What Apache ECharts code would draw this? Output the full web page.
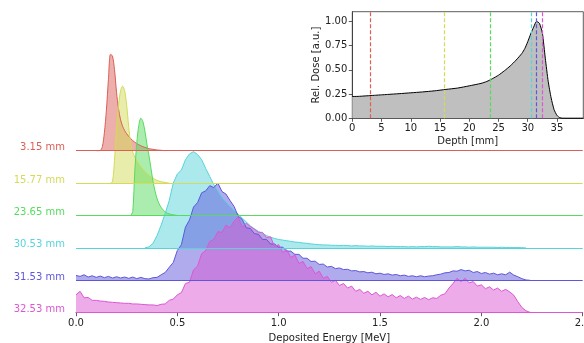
<!DOCTYPE html>
<html>
<head>
<meta charset="utf-8">
<script src="https://cdn.jsdelivr.net/npm/echarts@6/dist/echarts.min.js"></script>
<style>
  html, body { margin: 0; padding: 0; background: #fff; }
  #chart { width: 584px; height: 343px; }
</style>
</head>
<body>
<div id="chart"></div>
<script>
// spectra at six depths, top ridge first
const depthLabels = ['3.15 mm', '15.77 mm', '23.65 mm', '30.53 mm', '31.53 mm', '32.53 mm'];
const depthValues = [3.15, 15.77, 23.65, 30.53, 31.53, 32.53];
const ridgeColors = ['#db5f57', '#d4db57', '#57db5f', '#57d4db', '#5f57db', '#db57d4'];

// first energy bin [MeV] and bin width of each spectrum
const specStart = [0.10, 0.17, 0.27, 0.34, 0.00, 0.00];
const specStep = [0.01, 0.01, 0.01, 0.02, 0.02, 0.02];

const spec315 = [0, 0, 0.01, 0.12, 0.55, 1.25, 2.2, 2.97, 2.92, 2.5, 1.8, 1.28, 0.95, 0.75, 0.62, 0.52, 0.44,
  0.37, 0.31, 0.26, 0.22, 0.18, 0.15, 0.12, 0.1, 0.08, 0.06, 0.05, 0.04, 0.03, 0.02, 0.015, 0.01, 0.005, 0];
const spec1577 = [0, 0.04, 0.7, 1.7, 2.4, 2.85, 2.99, 2.85, 2.4, 1.75, 1.2, 0.95, 0.8, 0.7, 0.6, 0.51, 0.43,
  0.36, 0.3, 0.24, 0.19, 0.15, 0.11, 0.08, 0.06, 0.04, 0.03, 0.02, 0.01, 0];
const spec2365 = [0, 0.12, 1.35, 2.25, 2.78, 3.0, 2.9, 2.6, 2.2, 1.85, 1.45, 1.05, 0.75, 0.52, 0.36, 0.25,
  0.17, 0.11, 0.07, 0.05, 0.03, 0.02, 0.01, 0];
const spec3053 = [0, 0.03, 0.14, 0.38, 0.7, 1.06, 1.46, 2.0, 2.28, 2.4, 2.72, 2.9, 2.97, 2.88, 2.72, 2.45,
  2.2, 1.95, 1.76, 1.56, 1.42, 1.28, 1.16, 1.04, 0.92, 0.8, 0.68, 0.59, 0.51, 0.44, 0.38, 0.33, 0.29, 0.26,
  0.24, 0.22, 0.2, 0.18, 0.17, 0.15, 0.14, 0.12, 0.11, 0.1, 0.09, 0.09, 0.08, 0.08, 0.07, 0.08, 0.07, 0.06,
  0.07, 0.06, 0.06, 0.05, 0.06, 0.05, 0.05, 0.05, 0.04, 0.05, 0.04, 0.04, 0.04, 0.03, 0.04, 0.03, 0.04, 0.04,
  0.05, 0.04, 0.04, 0.03, 0.03, 0.03, 0.03, 0.04, 0.03, 0.03, 0.02, 0.03, 0.02, 0.02, 0.02, 0.02, 0.02, 0.01,
  0.02, 0.01, 0.01, 0.01, 0.01, 0.005, 0];
const spec3153 = [0.15, 0.12, 0.17, 0.1, 0.14, 0.09, 0.13, 0.08, 0.12, 0.07, 0.11, 0.07, 0.1, 0.06, 0.1,
  0.05, 0.09, 0.05, 0.04, 0.08, 0.09, 0.17, 0.24, 0.4, 0.55, 0.92, 1.1, 1.64, 1.86, 2.26, 2.4, 2.7, 2.76,
  2.92, 2.86, 3.0, 2.74, 2.66, 2.46, 2.28, 1.98, 1.88, 1.62, 1.6, 1.44, 1.42, 1.26, 1.26, 1.12, 1.12, 1.02,
  1.02, 0.9, 0.9, 0.8, 0.8, 0.68, 0.68, 0.58, 0.59, 0.49, 0.5, 0.41, 0.43, 0.36, 0.38, 0.33, 0.34, 0.29,
  0.3, 0.26, 0.27, 0.23, 0.25, 0.2, 0.22, 0.18, 0.2, 0.16, 0.18, 0.14, 0.16, 0.12, 0.14, 0.11, 0.14, 0.11,
  0.13, 0.14, 0.17, 0.19, 0.23, 0.24, 0.29, 0.28, 0.33, 0.29, 0.31, 0.24, 0.27, 0.21, 0.24, 0.19, 0.22, 0.17,
  0.2, 0.17, 0.25, 0.16, 0.11, 0.05, 0.01, 0];
const spec3253 = [0.55, 0.66, 0.46, 0.47, 0.38, 0.38, 0.36, 0.35, 0.33, 0.32, 0.31, 0.3, 0.29, 0.29, 0.27,
  0.27, 0.26, 0.25, 0.24, 0.24, 0.22, 0.26, 0.27, 0.38, 0.42, 0.55, 0.62, 0.9, 0.94, 1.32, 1.44, 1.82, 1.92,
  2.2, 2.26, 2.5, 2.48, 2.7, 2.62, 2.82, 2.96, 2.64, 2.76, 2.66, 2.58, 2.48, 2.48, 2.32, 2.34, 2.04, 2.1,
  1.86, 1.94, 1.7, 1.78, 1.52, 1.58, 1.36, 1.42, 1.2, 1.28, 1.06, 1.12, 0.94, 1.0, 0.84, 0.9, 0.76, 0.82,
  0.66, 0.72, 0.6, 0.66, 0.55, 0.63, 0.51, 0.58, 0.49, 0.56, 0.46, 0.53, 0.44, 0.51, 0.42, 0.48, 0.41, 0.47,
  0.4, 0.46, 0.44, 0.54, 0.58, 0.76, 0.9, 1.06, 0.96, 1.06, 0.92, 0.96, 0.82, 0.86, 0.74, 0.8, 0.7, 0.76,
  0.66, 0.72, 0.64, 0.54, 0.34, 0.16, 0.06, 0.01, 0];
const spectra = [spec315, spec1577, spec2365, spec3053, spec3153, spec3253];

// depth dose curve for the inset
const depthMm = [0, 1, 2, 3, 4, 5, 6, 8, 10, 12, 14, 16, 18, 20, 22, 23, 24, 25, 26, 27, 28, 29, 29.5, 30,
  30.5, 31, 31.5, 32, 32.5, 33, 33.5, 34, 34.5, 35, 35.5, 36, 39.5];
const relDose = [0.225, 0.226, 0.23, 0.234, 0.238, 0.242, 0.246, 0.254, 0.263, 0.272, 0.283, 0.298, 0.312,
  0.335, 0.36, 0.38, 0.41, 0.445, 0.49, 0.54, 0.6, 0.67, 0.72, 0.79, 0.87, 0.94, 1.0, 0.98, 0.88, 0.62, 0.38,
  0.21, 0.09, 0.03, 0.006, 0, 0];

const font = 'DejaVu Sans';
const axisColor = '#333';
const n = spectra.length;

const rich = {};
ridgeColors.forEach((c, i) => {
  rich['c' + i] = { color: c, fontSize: 10, fontFamily: font };
});

const ridgeSeries = spectra.map((vals, i) => {
  const offset = n - 1 - i;
  const color = ridgeColors[i];
  return {
    type: 'line',
    xAxisIndex: 0,
    yAxisIndex: 0,
    data: vals.map((v, k) => [+(specStart[i] + k * specStep[i]).toFixed(3), offset + v]),
    symbol: 'none',
    smooth: i < 3 ? 0.3 : false,
    itemStyle: { color },
    lineStyle: { color, width: 1 },
    areaStyle: { color, opacity: 0.5, origin: offset },
    markLine: {
      silent: true,
      symbol: 'none',
      label: { show: false },
      emphasis: { disabled: true },
      lineStyle: { color, width: 1, type: 'solid', opacity: 1 },
      data: [{ yAxis: offset, lineStyle: { color, width: 1, type: 'solid', opacity: 1 } }],
    },
  };
});

const doseSeries = {
  type: 'line',
  xAxisIndex: 1,
  yAxisIndex: 1,
  data: depthMm.map((d, k) => [d, relDose[k]]),
  symbol: 'none',
  smooth: 0.2,
  lineStyle: { color: '#000', width: 1 },
  areaStyle: { color: '#bfbfbf', opacity: 1 },
  markLine: {
    silent: true,
    symbol: 'none',
    label: { show: false },
    data: depthValues.map((d, i) => ({
      xAxis: d,
      lineStyle: { color: ridgeColors[i], type: [4, 2], width: 1.2 },
    })),
  },
};

const chart = echarts.init(document.getElementById('chart'), null, { renderer: 'canvas' });
chart.setOption({
  animation: false,
  backgroundColor: '#fff',
  textStyle: { fontFamily: font },
  grid: [
    { left: 76, right: 1.3, top: 21, bottom: 30.3, outerBoundsMode: 'none', containLabel: false },
    { left: 352.3, right: 0.7, top: 11.7, bottom: 224.7, show: true, backgroundColor: '#fff',
      borderColor: axisColor, borderWidth: 0.8, outerBoundsMode: 'none', containLabel: false },
  ],
  xAxis: [
    {
      type: 'value', gridIndex: 0, min: 0, max: 2.5, interval: 0.5,
      name: 'Deposited Energy [MeV]', nameLocation: 'middle', nameGap: 19,
      nameTextStyle: { fontSize: 10, color: '#222', fontFamily: font },
      axisLine: { show: true, lineStyle: { color: axisColor, width: 0.8 } },
      axisTick: { show: true, length: 3.5, lineStyle: { color: axisColor, width: 0.8 } },
      axisLabel: { fontSize: 10, color: '#222', margin: 6, formatter: v => v.toFixed(1) },
      splitLine: { show: false },
    },
    {
      type: 'value', gridIndex: 1, min: 0, max: 39.5, interval: 5,
      name: 'Depth [mm]', nameLocation: 'middle', nameGap: 18,
      nameTextStyle: { fontSize: 10, color: '#222', fontFamily: font },
      axisLine: { show: true, onZero: false, lineStyle: { color: axisColor, width: 0.8 } },
      axisTick: { show: true, length: 3.5, lineStyle: { color: axisColor, width: 0.8 } },
      axisLabel: { fontSize: 10, color: '#222', margin: 5, showMaxLabel: false },
      splitLine: { show: false },
    },
  ],
  yAxis: [
    {
      type: 'value', gridIndex: 0, min: 0, max: 9, interval: 1,
      axisLine: { show: false },
      axisTick: { show: false },
      splitLine: { show: false },
      axisLabel: {
        margin: 11,
        padding: [0, 0, 6, 0],
        rich,
        formatter: v => (v <= n - 1 ? `{c${n - 1 - v}|${depthLabels[n - 1 - v]}}` : ''),
      },
    },
    {
      type: 'value', gridIndex: 1, min: 0, max: 1.1, interval: 0.25,
      name: 'Rel. Dose [a.u.]', nameLocation: 'middle', nameGap: 30,
      nameTextStyle: { fontSize: 10, color: '#222', fontFamily: font },
      axisLine: { show: true, onZero: false, lineStyle: { color: axisColor, width: 0.8 } },
      axisTick: { show: true, length: 3.5, lineStyle: { color: axisColor, width: 0.8 } },
      axisLabel: { fontSize: 10, color: '#222', margin: 5, formatter: v => v.toFixed(2) },
      splitLine: { show: false },
    },
  ],
  series: [...ridgeSeries, doseSeries],
});
</script>
</body>
</html>
